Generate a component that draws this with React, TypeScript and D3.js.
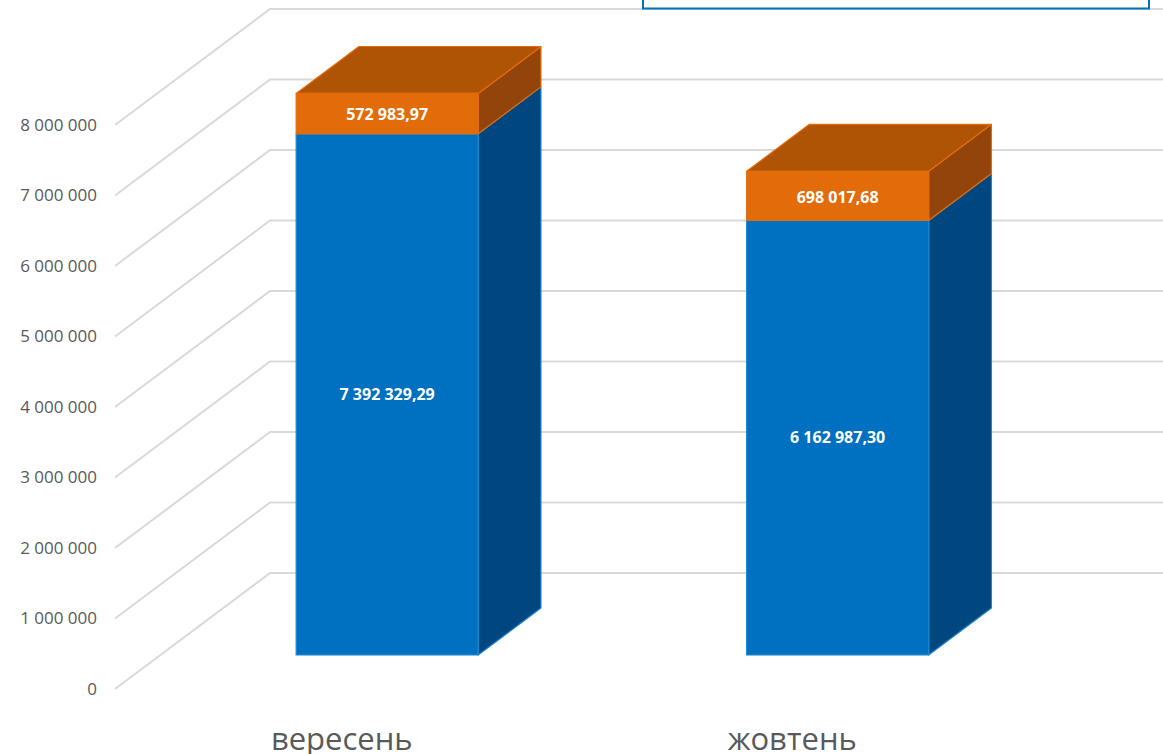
import React from 'react';
import * as d3 from 'd3';

const categories = ['вересень', 'жовтень'];
const seriesA = [7392329.29, 6162987.3];
const seriesB = [572983.97, 698017.68];
const yTicks = [0, 1000000, 2000000, 3000000, 4000000, 5000000, 6000000, 7000000, 8000000];

const width = 1163;
const height = 754;

const locale = d3.formatLocale({ decimal: ',', thousands: ' ', grouping: [3], currency: ['', ''] });
const fmtTick = locale.format(',.0f');
const fmtLabel = locale.format(',.2f');

// front plane of the chart box
const y = d3.scaleLinear().domain([0, 8000000]).range([689, 125]);
const x = d3.scaleBand().domain(categories).range([116.5, 1017.5]).paddingInner(0.596).paddingOuter(0.298);

// depth: 0 = front plane, 1 = back wall
const depthX = d3.scaleLinear().domain([0, 1]).range([0, 155]);
const depthY = d3.scaleLinear().domain([0, 1]).range([0, -116]);
const barFront = 0.293;
const barBack = 0.698;

const pt = (px: number, value: number, depth: number): [number, number] => [
  px + depthX(depth),
  y(value) + depthY(depth),
];
const poly = (points: [number, number][]) => d3.line()(points) + 'Z';

const colors = {
  blue: { front: '#0070C0', side: '#00467F', edge: '#1A86D0' },
  orange: { front: '#E36C0A', side: '#93440A', top: '#AF5305', edge: '#E36C0A' },
};

const Block = ({ cat, from, to, c, top }: any) => {
  const x0 = x(cat) as number;
  const x1 = x0 + x.bandwidth();
  return (
    <g stroke={c.edge} strokeWidth={1.2} strokeLinejoin="round">
      <path
        d={poly([pt(x1, from, barFront), pt(x1, from, barBack), pt(x1, to, barBack), pt(x1, to, barFront)])}
        fill={c.side}
      />
      {top && (
        <path
          d={poly([pt(x0, to, barFront), pt(x0, to, barBack), pt(x1, to, barBack), pt(x1, to, barFront)])}
          fill={c.top}
        />
      )}
      <path
        d={poly([pt(x0, from, barFront), pt(x1, from, barFront), pt(x1, to, barFront), pt(x0, to, barFront)])}
        fill={c.front}
      />
    </g>
  );
};

export default function App() {
  return (
    <svg width={width} height={height} style={{ position: 'absolute', left: 0, top: 0, background: '#fff' }}>
      {yTicks.map((t) => {
        const back = pt(115, t, 1);
        return (
          <g key={t}>
            <path
              d={d3.line()([[115, y(t)], back, [width, back[1]]]) as string}
              fill="none"
              stroke="#D9D9D9"
              strokeWidth={2}
            />
            <text
              x={97}
              y={y(t)}
              dy="0.35em"
              textAnchor="end"
              fontFamily="Open Sans"
              fontSize={17}
              fill="#595959"
            >
              {fmtTick(t)}
            </text>
          </g>
        );
      })}

      <rect x={643} y={-20} width={506} height={28.5} fill="#fff" stroke="#0070C0" strokeWidth={2} />

      {categories.map((cat, i) => {
        const cx = (x(cat) as number) + x.bandwidth() / 2;
        const a = seriesA[i];
        const b = seriesB[i];
        const labelX = cx + depthX(barFront);
        const labelY = (v0: number, v1: number) => (y(v0) + y(v1)) / 2 + depthY(barFront);
        return (
          <g key={cat}>
            <Block cat={cat} from={0} to={a} c={colors.blue} top={false} />
            <Block cat={cat} from={a} to={a + b} c={colors.orange} top />
            <text x={labelX} y={labelY(0, a)} dy="0.35em" textAnchor="middle" fontFamily="Open Sans" fontWeight={700} fontSize={16} fill="#fff">
              {fmtLabel(a)}
            </text>
            <text x={labelX} y={labelY(a, a + b) + 1} dy="0.35em" textAnchor="middle" fontFamily="Open Sans" fontWeight={700} fontSize={16} fill="#fff">
              {fmtLabel(b)}
            </text>
            <text x={cx} y={750} textAnchor="middle" fontFamily="Open Sans" fontSize={31} fill="#595959">
              {cat}
            </text>
          </g>
        );
      })}
    </svg>
  );
}
